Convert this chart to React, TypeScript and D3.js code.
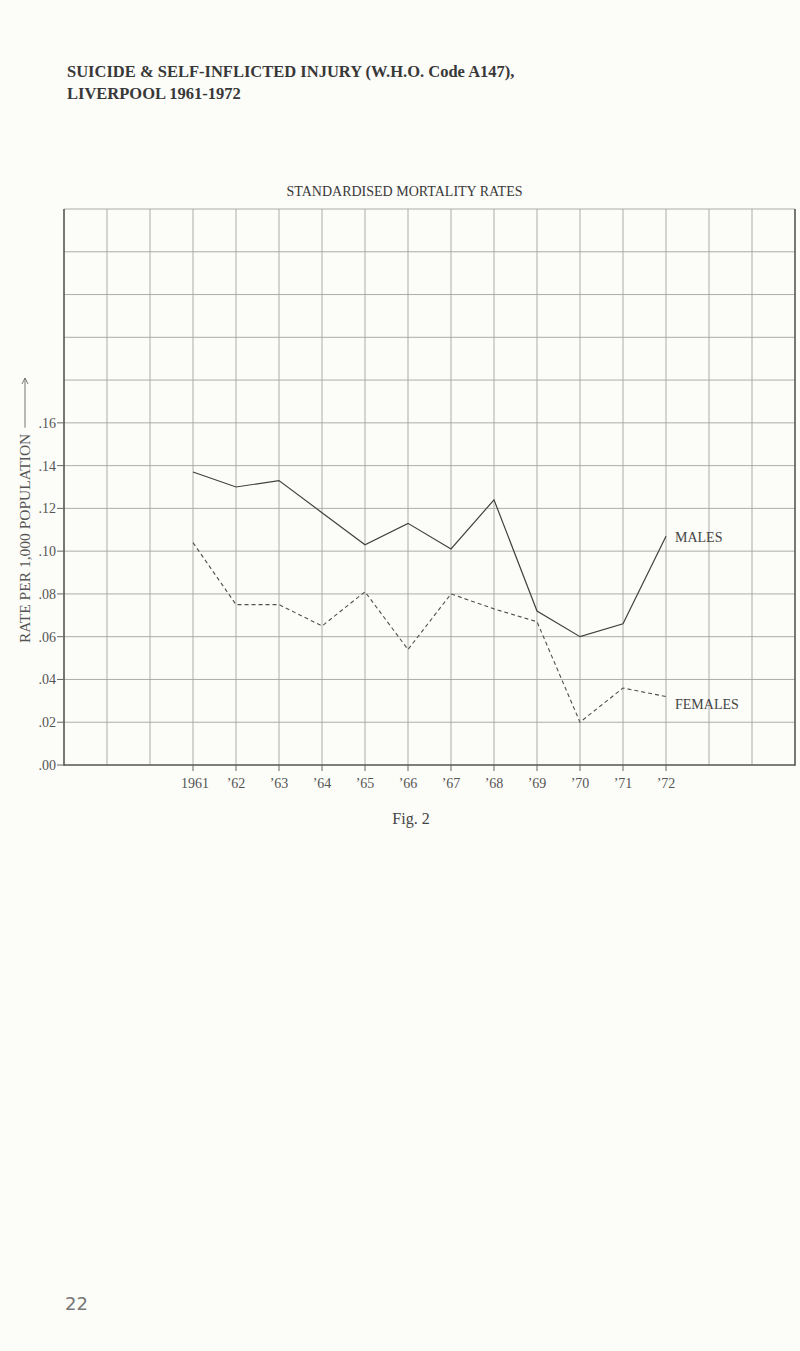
/**
 * Suicide & self-inflicted injury, Liverpool 1961-1972 — standardised mortality rates.
 * Graph-paper style line chart: males (solid) and females (dashed).
 */

import { useEffect, useRef } from 'react';
import * as d3 from 'd3';

// ─── Data ───────────────────────────────────────────────────

const years = [1961, 1962, 1963, 1964, 1965, 1966, 1967, 1968, 1969, 1970, 1971, 1972];
const yearLabels = ['1961', '’62', '’63', '’64', '’65', '’66', '’67', '’68', '’69', '’70', '’71', '’72'];
const males = [0.137, 0.130, 0.133, 0.118, 0.103, 0.113, 0.101, 0.124, 0.072, 0.060, 0.066, 0.107];
const females = [0.104, 0.075, 0.075, 0.065, 0.081, 0.054, 0.080, 0.073, 0.067, 0.020, 0.036, 0.032];
const yTickLabels = ['.00', '.02', '.04', '.06', '.08', '.10', '.12', '.14', '.16'];

const W = 800;
const H = 1351;
const SERIF = '"Liberation Serif", "DejaVu Serif", serif';
const INK = '#383838';
const GRID = '#a4a4a0';

// ─── Component ──────────────────────────────────────────────

export default function App() {
  const svgRef = useRef<SVGSVGElement>(null);

  useEffect(() => {
    document.body.style.margin = '0';
    document.body.style.background = '#fcfcf8';
    if (!svgRef.current) return;
    const svg = d3.select(svgRef.current);
    svg.selectAll('*').remove();

    // graph paper: 17 columns x 13 rows
    const x = d3.scaleLinear().domain([1958, 1975]).range([64, 795]);
    const y = d3.scaleLinear().domain([0, 0.26]).range([765, 209]);

    svg.append('rect').attr('width', W).attr('height', H).attr('fill', '#fcfcf8');

    // Titles
    const title = svg.append('text')
      .attr('font-family', SERIF).attr('font-weight', 'bold')
      .attr('font-size', '16.5px').attr('fill', INK);
    title.append('tspan').attr('x', 67).attr('y', 77)
      .text('SUICIDE & SELF-INFLICTED INJURY (W.H.O. Code A147),');
    title.append('tspan').attr('x', 67).attr('y', 99).text('LIVERPOOL 1961-1972');

    svg.append('text')
      .attr('x', (x(1958) + x(1975)) / 2 - 25).attr('y', 196)
      .attr('text-anchor', 'middle')
      .attr('font-family', SERIF).attr('font-size', '14px').attr('fill', INK)
      .text('STANDARDISED MORTALITY RATES');

    // Grid
    const g = svg.append('g');
    g.selectAll('line.v')
      .data(d3.range(1959, 1975))
      .join('line')
      .attr('x1', (d) => x(d)).attr('x2', (d) => x(d))
      .attr('y1', y(0.26)).attr('y2', y(0))
      .attr('stroke', GRID).attr('stroke-width', 0.9);

    g.selectAll('line.h')
      .data(d3.range(1, 14).map((i) => i * 0.02))
      .join('line')
      .attr('x1', x(1958)).attr('x2', x(1975))
      .attr('y1', (d) => y(d)).attr('y2', (d) => y(d))
      .attr('stroke', GRID).attr('stroke-width', 0.9);

    // Frame: heavier left, bottom and right edges
    g.append('line')
      .attr('x1', x(1958)).attr('x2', x(1958)).attr('y1', y(0.26)).attr('y2', y(0) + 0.7)
      .attr('stroke', '#555').attr('stroke-width', 1.6);
    g.append('line')
      .attr('x1', x(1958)).attr('x2', x(1975)).attr('y1', y(0)).attr('y2', y(0))
      .attr('stroke', '#555').attr('stroke-width', 1.6);
    g.append('line')
      .attr('x1', x(1975)).attr('x2', x(1975)).attr('y1', y(0.26)).attr('y2', y(0) + 0.7)
      .attr('stroke', '#555').attr('stroke-width', 1.6);

    // Y axis ticks and labels
    const yTicks = yTickLabels.map((_, i) => i * 0.02);
    svg.append('g').selectAll('line')
      .data(yTicks)
      .join('line')
      .attr('x1', x(1958) - 7).attr('x2', x(1958))
      .attr('y1', (d) => y(d)).attr('y2', (d) => y(d))
      .attr('stroke', '#666').attr('stroke-width', 1);
    svg.append('g').selectAll('text')
      .data(yTicks)
      .join('text')
      .attr('x', 56).attr('y', (d) => y(d) + 5)
      .attr('text-anchor', 'end')
      .attr('font-family', SERIF).attr('font-size', '14px').attr('fill', '#555')
      .text((_, i) => yTickLabels[i]);

    // Y axis title with arrow
    const yt = svg.append('g').attr('transform', 'translate(30,643) rotate(-90)');
    const label = yt.append('text')
      .attr('x', 0).attr('y', 0)
      .attr('font-family', SERIF).attr('font-size', '15.5px').attr('fill', '#555')
      .text('RATE PER 1,000 POPULATION');
    const lw = (label.node() as SVGTextElement).getComputedTextLength();
    yt.append('line')
      .attr('x1', lw + 6).attr('x2', 265).attr('y1', -5).attr('y2', -5)
      .attr('stroke', '#666').attr('stroke-width', 0.9);
    yt.append('path')
      .attr('d', 'M259,-8 L265,-5 L259,-2')
      .attr('fill', 'none').attr('stroke', '#666').attr('stroke-width', 0.9);

    // X axis ticks and labels
    svg.append('g').selectAll('line')
      .data(years)
      .join('line')
      .attr('x1', (d) => x(d)).attr('x2', (d) => x(d))
      .attr('y1', y(0)).attr('y2', y(0) + 6)
      .attr('stroke', '#666').attr('stroke-width', 1);
    svg.append('g').selectAll('text')
      .data(years)
      .join('text')
      .attr('x', (d, i) => x(d) + (i === 0 ? 2 : 0)).attr('y', 788)
      .attr('text-anchor', 'middle')
      .attr('font-family', SERIF).attr('font-size', '14px').attr('fill', '#555')
      .text((_, i) => yearLabels[i]);

    // Series
    const line = d3.line<number>()
      .x((_, i) => x(years[i]))
      .y((d) => y(d));

    svg.append('path')
      .attr('d', line(males))
      .attr('fill', 'none').attr('stroke', '#404040').attr('stroke-width', 1.2);
    svg.append('path')
      .attr('d', line(females))
      .attr('fill', 'none').attr('stroke', '#505050').attr('stroke-width', 1.1)
      .attr('stroke-dasharray', '4 3');

    // Series labels
    svg.append('text')
      .attr('x', x(1972) + 9).attr('y', 542)
      .attr('font-family', SERIF).attr('font-size', '14px').attr('fill', '#444')
      .text('MALES');
    svg.append('text')
      .attr('x', x(1972) + 9).attr('y', 709)
      .attr('font-family', SERIF).attr('font-size', '14px').attr('fill', '#444')
      .text('FEMALES');

    // Caption and page number
    svg.append('text')
      .attr('x', 411).attr('y', 824)
      .attr('text-anchor', 'middle')
      .attr('font-family', SERIF).attr('font-size', '16px').attr('fill', '#444')
      .text('Fig. 2');
    svg.append('text')
      .attr('x', 65).attr('y', 1310)
      .attr('font-family', '"DejaVu Sans", sans-serif').attr('font-size', '18px').attr('fill', '#777')
      .text('22');
  }, []);

  return (
    <svg
      ref={svgRef}
      width={W}
      height={H}
      style={{ position: 'absolute', left: 0, top: 0, display: 'block' }}
    />
  );
}
